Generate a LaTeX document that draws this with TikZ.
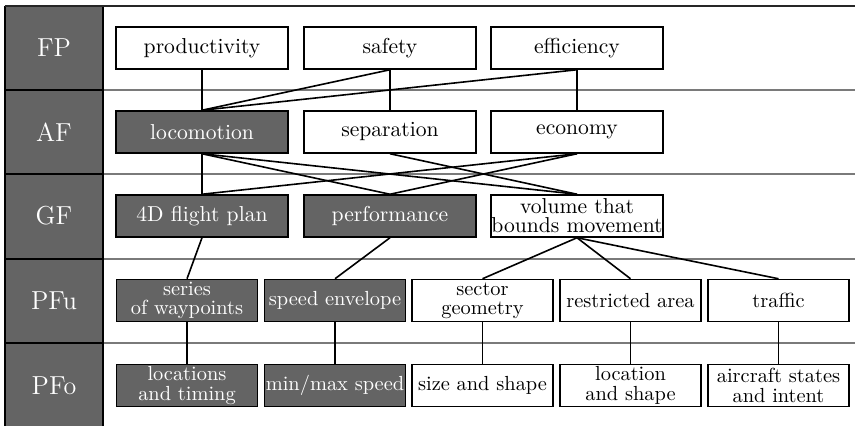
\documentclass[tikz,border=0pt]{standalone}
\usepackage{xcolor}
\usepackage{tikz}

\definecolor{boxgray}{HTML}{646464}
\definecolor{rulegray}{HTML}{7A7A7A}

\begin{document}
\begin{tikzpicture}[x=0.5pt, y=-0.5pt,
		box/.style = {draw, line width=0.75pt, minimum height=21pt, inner xsep=0.2pt, inner ysep=0.5pt, align=center},
		wide/.style = {box, minimum width=86pt, font=\fontsize{10.8}{9.6}\selectfont},
		narrow/.style = {box, minimum width=70.5pt, font=\fontsize{10.2}{9.6}\selectfont},
		dark/.style = {fill=boxgray, text=white},
		link/.style = {line width=0.8pt},
		level/.style = {text=white, font=\fontsize{13}{15}\selectfont}]
		
		\useasboundingbox (0,0) rectangle (855,426);
		
		%level column
		\fill [boxgray] (5,6) rectangle (103,426);
		
		%row separators
		\draw [rulegray, line width=0.7pt] (103,90) -- (855,90);
		\draw [rulegray, line width=0.7pt] (103,174) -- (855,174);
		\draw [rulegray, line width=0.7pt] (103,259) -- (855,259);
		\draw [rulegray, line width=0.7pt] (103,343) -- (855,343);
		\draw [line width=0.7pt] (5,90) -- (103,90);
		\draw [line width=0.7pt] (5,174) -- (103,174);
		\draw [line width=0.7pt] (5,259) -- (103,259);
		\draw [line width=0.7pt] (5,343) -- (103,343);
		
		%frame
		\draw [line width=0.8pt] (5,6) -- (5,426);
		\draw [line width=0.8pt] (103,6) -- (103,426);
		\draw [black!85, line width=1.1pt] (4.6,6) -- (855,6);
		
		%levels
		\node [level] (FP) at (54,48) {FP};
		\node [level] (AF) at (54,132) {AF};
		\node [level] (GF) at (54,216) {GF};
		\node [level] (PFu) at (54,300.5) {PFu};
		\node [level] (PFo) at (54,385.5) {PFo};
		
		%functional purposes
		\node [wide] (prod) at (202,48) {productivity};
		\node [wide] (safe) at (390,48) {safety};
		\node [wide] (eff) at (577,48) {efficiency};
		
		%abstract functions
		\node [wide, dark] (loco) at (202,132) {locomotion};
		\node [wide] (sep) at (390,132) {separation};
		\node [wide] (econ) at (577,132) {economy};
		
		%generalised functions
		\node [wide, dark] (plan) at (202,216) {4D flight plan};
		\node [wide, dark] (perf) at (390,216) {performance};
		\node [wide] (vol) at (577,216) {volume that\\bounds movement};
		
		%physical functions
		\node [narrow, dark] (wayp) at (187,300.5) {series\\of waypoints};
		\node [narrow, dark] (envl) at (335,300.5) {speed envelope};
		\node [narrow] (sect) at (482.5,300.5) {sector\\geometry};
		\node [narrow] (restr) at (630.5,300.5) {restricted area};
		\node [narrow] (traf) at (778.5,300.5) {traffic};
		
		%physical forms
		\node [narrow, dark] (loct) at (187,385.5) {locations\\and timing};
		\node [narrow, dark] (minmax) at (335,385.5) {min/max speed};
		\node [narrow] (size) at (482.5,385.5) {size and shape};
		\node [narrow] (locs) at (630.5,385.5) {location\\and shape};
		\node [narrow] (acst) at (778.5,385.5) {aircraft states\\and intent};
		
		%links FP - AF
		\draw [link] (prod.south) -- (loco.north);
		\draw [link] (safe.south) -- (loco.north);
		\draw [link] (eff.south) -- (loco.north);
		\draw [link] (safe.south) -- (sep.north);
		\draw [link] (eff.south) -- (econ.north);
		
		%links AF - GF
		\draw [link] (loco.south) -- (plan.north);
		\draw [link] (loco.south) -- (perf.north);
		\draw [link] (loco.south) -- (vol.north);
		\draw [link] (sep.south) -- (vol.north);
		\draw [link] (econ.south) -- (plan.north);
		\draw [link] (econ.south) -- (perf.north);
		
		%links GF - PFu
		\draw [link] (plan.south) -- (wayp.north);
		\draw [link] (perf.south) -- (envl.north);
		\draw [link] (vol.south) -- (sect.north);
		\draw [link] (vol.south) -- (restr.north);
		\draw [link] (vol.south) -- (traf.north);
		
		%links PFu - PFo
		\draw [link] (wayp.south) -- (loct.north);
		\draw [link] (envl.south) -- (minmax.north);
		\draw [link] (sect.south) -- (size.north);
		\draw [link] (restr.south) -- (locs.north);
		\draw [link] (traf.south) -- (acst.north);
	\end{tikzpicture}
\end{document}
